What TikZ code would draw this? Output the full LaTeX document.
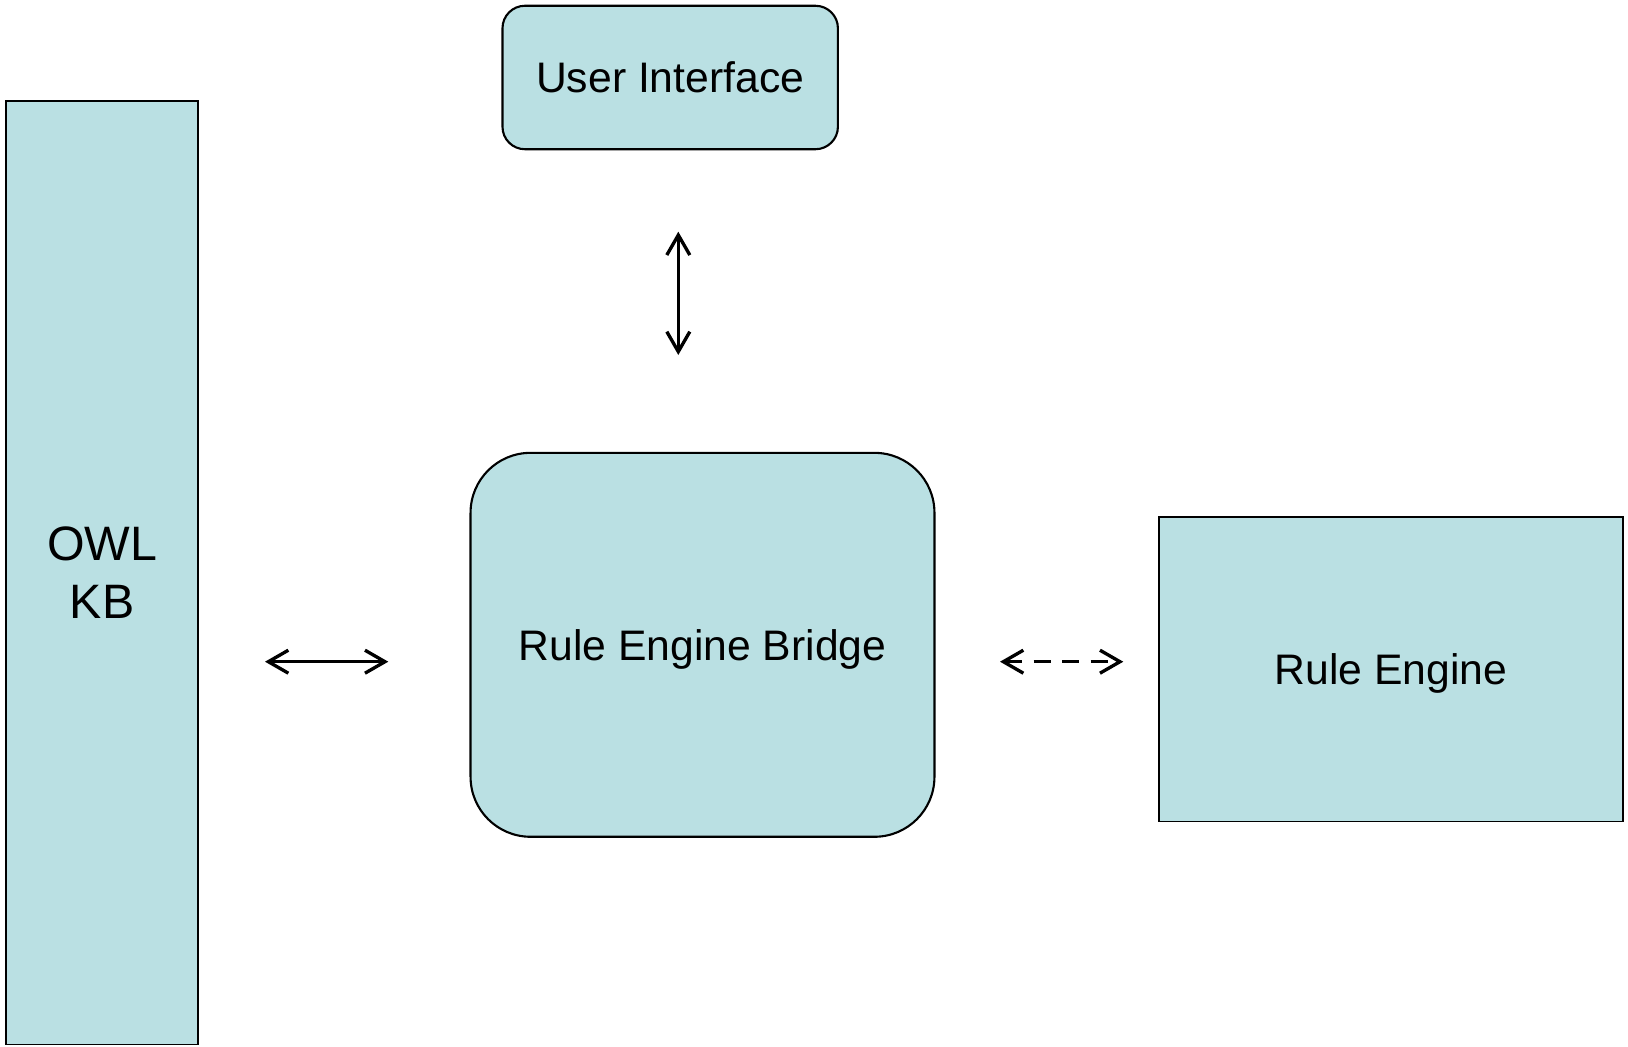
\documentclass[tikz,border=0pt]{standalone}
\usepackage{fontspec}
\setmainfont{Liberation Sans}
\usepackage{xcolor}
\usetikzlibrary{arrows.meta}
\definecolor{boxfill}{RGB}{186,224,227}

\begin{document}
\begin{tikzpicture}
    [x=0.02cm, y=-0.02cm,
    block/.style={draw, line width=1pt, fill=boxfill, align=center, inner sep=0pt,
        text depth=0pt, font=\fontsize{24.3}{28}\selectfont},
    link/.style={line width=1.9pt, {Straight Barb[length=4mm,width=4.6mm]}-{Straight Barb[length=4mm,width=4.6mm]}}]
    \useasboundingbox (0,0) rectangle (1628,1047);
    % boxes
    \node[block, minimum width=3.84cm, minimum height=18.88cm,
        font=\fontsize{27.5}{32.5}\selectfont] (owl) at (102.2,572.6) {OWL\\KB};
    \node[block, line width=1.2pt, rounded corners=0.45cm, minimum width=6.71cm, minimum height=2.87cm] (ui) at (670.2,77.5) {User Interface};
    \node[block, line width=1.2pt, rounded corners=1.2cm, minimum width=9.28cm, minimum height=7.68cm] (bridge) at (702.5,644.8) {Rule Engine Bridge};
    \node[block, minimum width=9.28cm, minimum height=6.09cm] (engine) at (1390.8,669.2) {Rule Engine};
    % arrow ends
    \coordinate (uiEnd) at (678.3,231.7);
    \coordinate (bridgeTop) at (678.3,355);
    \coordinate (owlEnd) at (265,661.7);
    \coordinate (bridgeLeft) at (388.3,661.7);
    \coordinate (bridgeRight) at (1000,661.7);
    \coordinate (engineEnd) at (1123.3,661.7);
    % arrows
    \draw[link] (uiEnd) -- (bridgeTop);
    \draw[link] (owlEnd) -- (bridgeLeft);
    \draw[link, dash pattern=on 0.34cm off 0.23cm] (bridgeRight) -- (engineEnd);
\end{tikzpicture}
\end{document}
